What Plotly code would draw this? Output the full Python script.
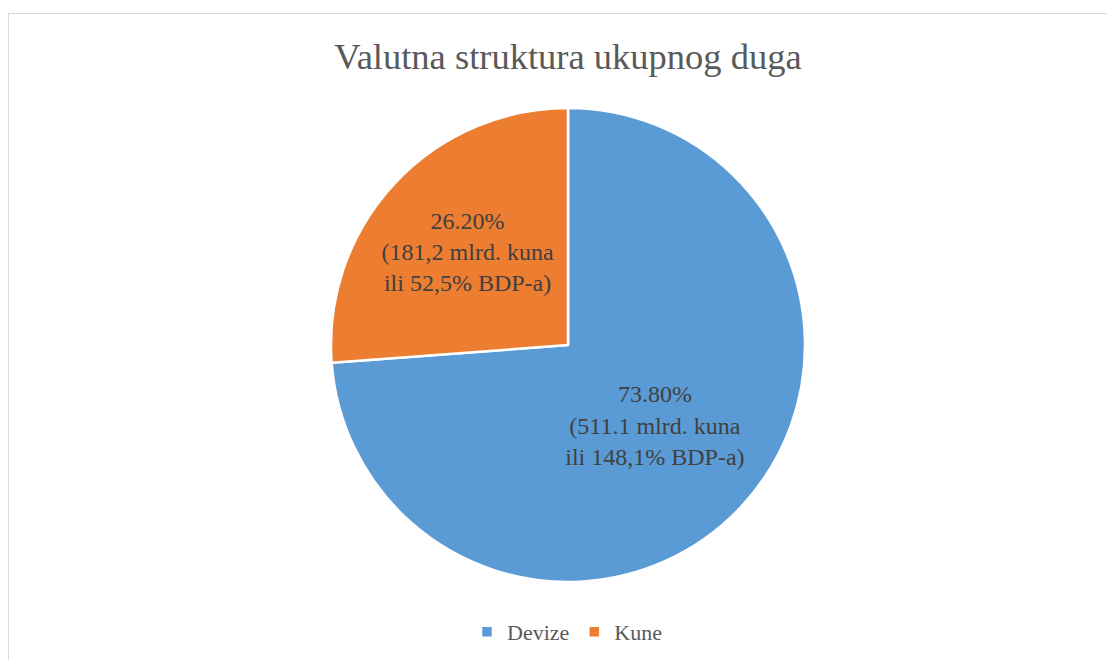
import plotly.graph_objects as go

labels = ["Devize", "Kune"]
values = [73.8, 26.2]
amounts = ["511.1", "181,2"]
gdp_shares = ["148,1%", "52,5%"]
colors = ["#5B9BD5", "#ED7D31"]
title_text = "Valutna struktura ukupnog duga"

SERIF = "Liberation Serif, Times New Roman, serif"

# the page body has an 8px margin, so figure coords = screen coords - 8
OFF = 8
W, H = 1115, 660
ML, MR, MT, MB = 5, 0, 100, 86
pw, ph = W - ML - MR, H - MT - MB

def px_x(x):
    return (x - OFF - ML) / pw

def px_y(y):
    return (H - MB - (y - OFF)) / ph

fig = go.Figure(go.Pie(
    labels=labels,
    values=values,
    customdata=list(zip(amounts, gdp_shares)),
    texttemplate="%{percent:.2%}<br>(%{customdata[0]} mlrd. kuna<br>ili %{customdata[1]} BDP-a)",
    textposition="inside",
    insidetextorientation="horizontal",
    textfont=dict(family=SERIF, size=24, color="#404040"),
    insidetextfont=dict(family=SERIF, size=24, color="#404040"),
    marker=dict(colors=colors, line=dict(color="white", width=2.5)),
    sort=False,
    direction="clockwise",
    rotation=0,
    hoverinfo="label+percent",
))

fig.update_layout(
    width=W, height=H,
    margin=dict(l=ML, r=MR, t=MT, b=MB, autoexpand=False),
    font=dict(family=SERIF, color="#595959"),
    uniformtext=dict(minsize=24, mode="show"),
    paper_bgcolor="white",
    plot_bgcolor="white",
    title=dict(text=title_text, x=(568 - OFF) / W, xanchor="center",
               y=1 - (56 - OFF) / H, yanchor="middle", yref="container",
               font=dict(family=SERIF, size=36.5, color="#595959")),
    showlegend=True,
    legend=dict(orientation="h", x=px_x(567), xanchor="center",
                y=px_y(632), yanchor="middle",
                font=dict(family=SERIF, size=22, color="#595959"),
                itemwidth=30, traceorder="normal"),
    shapes=[dict(type="rect", xref="paper", yref="paper",
                 x0=px_x(8.5), x1=px_x(1140), y0=px_y(700), y1=px_y(13.5),
                 line=dict(color="#D9D9D9", width=1), fillcolor="rgba(0,0,0,0)",
                 layer="below")],
)

fig.write_html("out.html")
